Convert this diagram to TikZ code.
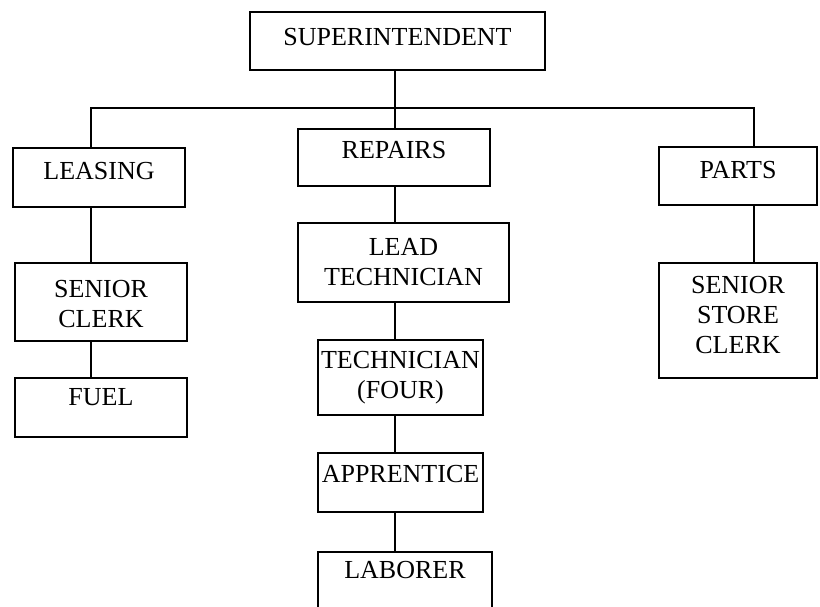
\documentclass[tikz,border=0pt]{standalone}
\usepackage{fontspec}
\setmainfont{Liberation Serif}
\newcommand\orgtxt[4]{\vbox to #2pt{\hsize=#1pt\parskip=0pt\parindent=0pt\baselineskip=30pt\lineskiplimit=-100pt\kern#3pt\centering\noindent\rule{0pt}{20pt}#4\par\vfil}}
\tikzset{
  orgbox/.style={draw, line width=2.9pt, inner sep=0pt, outer sep=0pt, anchor=north west,
    font=\fontsize{26pt}{30pt}\selectfont},
  link/.style={line width=2.9pt}
}
\begin{document}
\begin{tikzpicture}[x=1pt,y=-1pt]
\useasboundingbox (0,0) rectangle (820,606);
\clip (0,0) rectangle (820,606);
\fill[white] (0,0) rectangle (820,606);
\node[orgbox] (sup) at (250,12) {\orgtxt{295}{58}{13}{SUPERINTENDENT}};
\node[orgbox] (leasing) at (13,148) {\orgtxt{172}{59}{11}{LEASING}};
\node[orgbox] (repairs) at (298,129) {\orgtxt{192}{57}{9}{REPAIRS}};
\node[orgbox] (parts) at (659,147) {\orgtxt{158}{58}{11}{PARTS}};
\node[orgbox] (sclerk) at (15,263) {\orgtxt{172}{78}{14}{SENIOR\\CLERK}};
\node[orgbox] (fuel) at (15,378) {\orgtxt{172}{59}{7}{FUEL}};
\node[orgbox] (lead) at (298,223) {\orgtxt{211}{79}{12}{LEAD\\TECHNICIAN}};
\node[orgbox] (tech) at (318,340) {\orgtxt{165}{75}{8}{TECHNICIAN\\(FOUR)}};
\node[orgbox] (appr) at (318,453) {\orgtxt{165}{59}{9}{APPRENTICE}};
\node[orgbox] (lab) at (318,552) {\orgtxt{174}{70}{6}{LABORER}};
\node[orgbox] (ssc) at (659,263) {\orgtxt{158}{115}{10}{SENIOR\\STORE\\CLERK}};
\coordinate (cL) at (91,108);
\coordinate (cM) at (395,108);
\coordinate (cP) at (754,108);
\draw[link] (leasing.north -| cL) |- (cM) -| (parts.north -| cP);
\draw[link] (sup.south -| cM) -- (repairs.north -| cM);
\draw[link] (leasing.south -| cL) -- (sclerk.north -| cL);
\draw[link] (sclerk.south -| cL) -- (fuel.north -| cL);
\draw[link] (repairs.south -| cM) -- (lead.north -| cM);
\draw[link] (lead.south -| cM) -- (tech.north -| cM);
\draw[link] (tech.south -| cM) -- (appr.north -| cM);
\draw[link] (appr.south -| cM) -- (lab.north -| cM);
\draw[link] (parts.south -| cP) -- (ssc.north -| cP);
\end{tikzpicture}
\end{document}
